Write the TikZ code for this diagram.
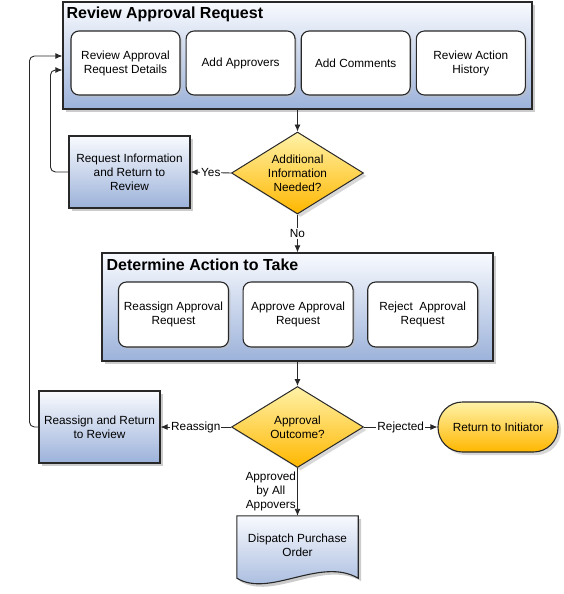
\documentclass[tikz,border=0pt]{standalone}
\usepackage{fontspec}
\setmainfont{Liberation Sans}
\usepackage{xcolor}
\usepackage{tikz}
\usetikzlibrary{arrows.meta,shapes,shadows,backgrounds,positioning}

\definecolor{lineclr}{RGB}{40,40,40}
\definecolor{bluetop}{RGB}{248,250,254}
\definecolor{bluebot}{RGB}{156,178,218}
\definecolor{goldtop}{RGB}{255,242,168}
\definecolor{goldbot}{RGB}{255,183,0}

\begin{document}
\begin{tikzpicture}[x=1pt, y=-1pt, >={Latex[length=7pt,width=6pt]},
	every node/.style={font=\fontsize{11.8}{14}\selectfont, text=black}]

	\tikzstyle{phase}=[rectangle, draw=lineclr, line width=1.2pt, top color=bluetop, bottom color=bluebot, drop shadow={shadow xshift=3pt, shadow yshift=-3pt, fill=black!40}]
	\tikzstyle{phasetitle}=[anchor=west, inner sep=0pt, font=\fontsize{16}{18}\selectfont\bfseries]
	\tikzstyle{task}=[rectangle, rounded corners=8pt, draw=lineclr, line width=1.1pt, fill=white, align=center, drop shadow={shadow xshift=2pt, shadow yshift=-2pt, fill=black!25}]
	\tikzstyle{action}=[rectangle, draw=lineclr, line width=1.1pt, top color=bluetop, bottom color=bluebot, minimum width=121pt, minimum height=72pt, align=center, drop shadow={shadow xshift=3pt, shadow yshift=-3pt, fill=black!40}]
	\tikzstyle{decision}=[diamond, aspect=1.6, inner sep=0pt, draw=lineclr, line width=1pt, top color=goldtop, bottom color=goldbot, minimum width=132pt, minimum height=82pt, align=center, drop shadow={shadow xshift=3pt, shadow yshift=-3pt, fill=black!30}]
	\tikzstyle{terminal}=[rectangle, rounded corners=24.5pt, draw=lineclr, line width=1.1pt, top color=goldtop, bottom color=goldbot, minimum width=120pt, minimum height=50pt, drop shadow={shadow xshift=3pt, shadow yshift=-3pt, fill=black!30}]
	\tikzstyle{flow}=[->, draw=lineclr, line width=0.9pt]
	\tikzstyle{lbl}=[fill=white, inner sep=1pt]

	\useasboundingbox (0,0) rectangle (563,594);

	% Review phase
	\node[phase, minimum width=469pt, minimum height=107pt] (review) at (297.5,55.5) {};
	\node[phasetitle] (reviewtitle) at ([xshift=4pt, yshift=-13pt]review.north west) {Review Approval Request};
	\node[task, minimum width=109pt, minimum height=64pt] (details) at (125.5,63) {Review Approval\\Request Details};
	\node[task, minimum width=109pt, minimum height=64pt, right=5pt of details] (approvers) {Add Approvers};
	\node[task, minimum width=109pt, minimum height=64pt, right=5pt of approvers] (comments) {Add Comments};
	\node[task, minimum width=109pt, minimum height=64pt, right=5pt of comments] (history) {Review Action\\History};

	\node[decision] (moreinfo) at (297.5,173) {Additional\\Information\\Needed?};
	\node[action] (reqinfo) at (129.5,172) {Request Information\\and Return to\\Review};

	% Determine phase
	\node[phase, minimum width=391pt, minimum height=108pt] (determine) at (297.5,307) {};
	\node[phasetitle] (determinetitle) at ([xshift=5pt, yshift=-12.5pt]determine.north west) {Determine Action to Take};
	\node[task, minimum width=110pt, minimum height=65pt] (reassignreq) at (173.5,314.5) {Reassign Approval\\Request};
	\node[task, minimum width=110pt, minimum height=65pt, right=13.5pt of reassignreq] (approvereq) {Approve Approval\\Request};
	\node[task, minimum width=110pt, minimum height=65pt, right=13.5pt of approvereq] (rejectreq) {Reject~ Approval\\Request};

	\node[decision, minimum height=81pt] (outcome) at (297.5,427) {Approval\\Outcome?};
	\node[action] (reassign) at (99.5,427) {Reassign and Return\\to Review};
	\node[terminal] (initiator) at (498,427) {Return to Initiator};
	\node[minimum width=121pt, minimum height=58pt, align=center] (dispatch) at (297.5,545) {Dispatch Purchase\\Order};
	\begin{scope}[on background layer]
		\path[draw=lineclr, line width=1.1pt, top color=bluetop, bottom color=bluebot, drop shadow={shadow xshift=3pt, shadow yshift=-3pt, fill=black!40}]
			(dispatch.north west) -- (dispatch.north east) -- ([yshift=-4pt]dispatch.south east)
			.. controls ([xshift=-38pt, yshift=18pt]dispatch.south east) and ([xshift=33pt, yshift=-24pt]dispatch.south west) .. ([yshift=-4pt]dispatch.south west) -- cycle;
	\end{scope}

	% From review
	\draw[flow] (review.south) -- (moreinfo.north);
	\draw[flow] (moreinfo.west) -- node[lbl] {Yes} (reqinfo.east);
	\draw[flow] (moreinfo.south) -- node[lbl] {No} (determine.north);
	\draw[flow, rounded corners=5pt] (reqinfo.west) -- ++(-18,0) |- ([yshift=-14.5pt]review.west);

	% From determine
	\draw[flow] (determine.south) -- (outcome.north);
	\draw[flow] (outcome.west) -- node[lbl] {Reassign} (reassign.east);
	\draw[flow] (outcome.east) -- node[lbl] {Rejected} (initiator.west);
	\draw[flow] (outcome.south) -- node[left, inner sep=1pt, align=center] {Approved\\by All\\Appovers} (dispatch.north);
	\draw[flow, rounded corners=5pt] (reassign.west) -- ++(-9,0) |- ([yshift=-0.5pt]review.west);

\end{tikzpicture}
\end{document}
